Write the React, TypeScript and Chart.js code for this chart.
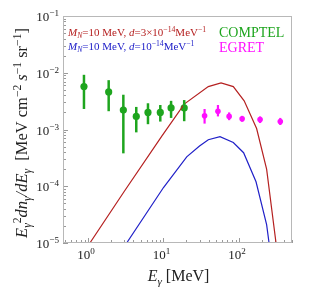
import React, { useEffect, useRef } from "react";
import { Chart, registerables } from "chart.js";

Chart.register(...registerables);

// Model curves (E in MeV, E^2 dn/dE)
const redE = [1.06, 3, 9.6, 18.8, 39.2, 57.8, 84, 117, 171, 232, 309];
const redY = [1e-5, 8.0e-5, 7.8e-4, 2.8e-3, 5.7e-3, 6.6e-3, 5.7e-3, 3.2e-3, 1.04e-3, 2.0e-4, 1e-5];
const blueE = [3.25, 10, 20.3, 30, 39.2, 56, 84, 115, 168, 232, 250];
const blueY = [1e-5, 9.5e-5, 3.3e-4, 5.1e-4, 6.6e-4, 7.5e-4, 5.9e-4, 3.9e-4, 1.2e-4, 2.1e-5, 1e-5];

// COMPTEL data
const comptelE = [0.885, 1.88, 2.94, 4.36, 6.23, 9.07, 12.6, 18.8];
const comptelY = [5.7e-3, 4.6e-3, 2.2e-3, 1.7e-3, 2.0e-3, 2.0e-3, 2.4e-3, 2.4e-3];
const comptelHi = [9.2e-3, 7.4e-3, 4.1e-3, 2.5e-3, 2.9e-3, 2.7e-3, 3.2e-3, 3.3e-3];
const comptelLo = [2.3e-3, 2.1e-3, 3.8e-4, 8.9e-4, 1.24e-3, 1.38e-3, 1.6e-3, 1.4e-3];

// EGRET data
const egretE = [35, 52.6, 74, 110, 190, 352];
const egretY = [1.74e-3, 2.1e-3, 1.7e-3, 1.55e-3, 1.5e-3, 1.38e-3];
const egretHi = [2.3e-3, 2.7e-3, 2.0e-3, 1.74e-3, 1.7e-3, 1.6e-3];
const egretLo = [1.27e-3, 1.7e-3, 1.46e-3, 1.37e-3, 1.3e-3, 1.2e-3];

const xTickExps = [0, 1, 2];
const yTickExps = [-1, -2, -3, -4, -5];

const RED = "#b52020";
const BLUE = "#2020c8";
const GREEN = "#1ea51e";
const MAGENTA = "#ff10ff";
const SERIF = "'Liberation Serif', 'DejaVu Serif', serif";

type Seg = { t: string; it?: boolean; sup?: boolean; sub?: boolean };

function segFont(s: Seg, size: number) {
  const sz = s.sup || s.sub ? size * 0.7 : size;
  return `${s.it ? "italic " : ""}${sz}px ${SERIF}`;
}
function richWidth(ctx: CanvasRenderingContext2D, segs: Seg[], size: number) {
  let w = 0;
  for (const s of segs) {
    ctx.font = segFont(s, size);
    w += ctx.measureText(s.t).width;
  }
  return w;
}
function drawRich(
  ctx: CanvasRenderingContext2D,
  segs: Seg[],
  x: number,
  y: number,
  size: number,
  color: string,
  align: "left" | "center" | "right" = "left"
) {
  const w = richWidth(ctx, segs, size);
  let cx = align === "left" ? x : align === "center" ? x - w / 2 : x - w;
  ctx.fillStyle = color;
  ctx.textAlign = "left";
  ctx.textBaseline = "alphabetic";
  for (const s of segs) {
    ctx.font = segFont(s, size);
    const dy = s.sup ? -size * 0.38 : s.sub ? size * 0.22 : 0;
    ctx.fillText(s.t, cx, y + dy);
    cx += ctx.measureText(s.t).width;
  }
}

const pts = (xs: number[], ys: number[]) => xs.map((x, i) => ({ x, y: ys[i] }));

const decorPlugin = {
  id: "decor",
  beforeDatasetsDraw(chart: any) {
    const { ctx, chartArea: a, scales } = chart;
    const xs = scales.x;
    const ys = scales.y;
    ctx.save();
    ctx.strokeStyle = "#9a9a9a";
    ctx.lineWidth = 1;
    for (let e = -1; e <= 2; e++) {
      for (let m = 1; m <= 9; m++) {
        const v = m * Math.pow(10, e);
        if (v < xs.min || v > xs.max) continue;
        const px = Math.round(xs.getPixelForValue(v)) + 0.5;
        const len = m === 1 ? 5 : 3;
        ctx.beginPath();
        ctx.moveTo(px, a.bottom);
        ctx.lineTo(px, a.bottom - len);
        ctx.stroke();
      }
    }
    for (let e = -5; e <= -2; e++) {
      for (let m = 1; m <= 9; m++) {
        const v = m * Math.pow(10, e);
        if (v < ys.min || v > ys.max) continue;
        const py = Math.round(ys.getPixelForValue(v)) + 0.5;
        const len = m === 1 ? 5 : 3;
        ctx.beginPath();
        ctx.moveTo(a.left, py);
        ctx.lineTo(a.left + len, py);
        ctx.stroke();
      }
    }
    ctx.restore();
  },
  afterDatasetsDraw(chart: any) {
    const { ctx, chartArea: a, scales } = chart;
    const xs = scales.x;
    const ys = scales.y;
    ctx.save();
    const bars = (E: number[], lo: number[], hi: number[], color: string, w: number) => {
      ctx.strokeStyle = color;
      ctx.lineWidth = w;
      E.forEach((e, i) => {
        const px = xs.getPixelForValue(e);
        const y1 = Math.min(ys.getPixelForValue(lo[i]), a.bottom);
        const y2 = ys.getPixelForValue(hi[i]);
        ctx.beginPath();
        ctx.moveTo(px, y1);
        ctx.lineTo(px, y2);
        ctx.stroke();
      });
    };
    bars(comptelE, comptelLo, comptelHi, GREEN, 2.5);
    bars(egretE, egretLo, egretHi, MAGENTA, 2.2);

    ctx.strokeStyle = "#b8b8b8";
    ctx.lineWidth = 1;
    ctx.strokeRect(a.left + 0.5, a.top + 0.5, a.right - a.left - 1, a.bottom - a.top - 1);

    const fs = 13;
    xTickExps.forEach((e) => {
      const px = xs.getPixelForValue(Math.pow(10, e));
      drawRich(ctx, [{ t: "10" }, { t: String(e), sup: true }], px - 2, a.bottom + 16, fs, "#222", "center");
    });
    yTickExps.forEach((e) => {
      const py = ys.getPixelForValue(Math.pow(10, e));
      drawRich(ctx, [{ t: "10" }, { t: "\u2212" + String(-e), sup: true }], a.left - 4, py + 5, fs, "#222", "right");
    });

    drawRich(ctx, [{ t: "E", it: true }, { t: "\u03b3", it: true, sub: true }, { t: " [MeV]" }], (a.left + a.right) / 2 + 1, 281, 16, "#222", "center");

    ctx.translate(27, 133);
    ctx.rotate(-Math.PI / 2);
    drawRich(
      ctx,
      [
        { t: "E", it: true },
        { t: "\u03b3", it: true, sub: true },
        { t: "2", sup: true },
        { t: "dn", it: true },
        { t: "\u03b3", it: true, sub: true },
        { t: "/", it: true },
        { t: "dE", it: true },
        { t: "\u03b3", it: true, sub: true },
        { t: "  [MeV cm" },
        { t: "\u22122", sup: true },
        { t: " " },
        { t: "s", it: true },
        { t: "\u22121", sup: true },
        { t: " sr" },
        { t: "\u22121", sup: true },
        { t: "]" },
      ],
      0,
      0,
      16.5,
      "#222",
      "center"
    );
    ctx.setTransform(1, 0, 0, 1, 0, 0);

    const lfs = 11;
    drawRich(
      ctx,
      [
        { t: "M", it: true },
        { t: "N", it: true, sub: true },
        { t: "=10 MeV, " },
        { t: "d", it: true },
        { t: "=3\u00d710" },
        { t: "\u221214", sup: true },
        { t: "MeV" },
        { t: "\u22121", sup: true },
      ],
      68,
      36,
      lfs,
      RED
    );
    drawRich(
      ctx,
      [
        { t: "M", it: true },
        { t: "N", it: true, sub: true },
        { t: "=10 MeV, " },
        { t: "d", it: true },
        { t: "=10" },
        { t: "\u221214", sup: true },
        { t: "MeV" },
        { t: "\u22121", sup: true },
      ],
      68,
      50,
      lfs,
      BLUE
    );
    drawRich(ctx, [{ t: "COMPTEL" }], 219, 37, 14, GREEN);
    drawRich(ctx, [{ t: "EGRET" }], 219, 52, 14, MAGENTA);
    ctx.restore();
  },
};

export default function App() {
  const ref = useRef<HTMLCanvasElement>(null);
  useEffect(() => {
    if (!ref.current) return;
    const chart = new Chart(ref.current, {
      type: "scatter",
      data: {
        datasets: [
          {
            data: pts(redE, redY),
            showLine: true,
            borderColor: RED,
            borderWidth: 1.2,
            pointRadius: 0,
            tension: 0,
          },
          {
            data: pts(blueE, blueY),
            showLine: true,
            borderColor: BLUE,
            borderWidth: 1.2,
            pointRadius: 0,
            tension: 0,
          },
          {
            data: pts(comptelE, comptelY),
            showLine: false,
            backgroundColor: GREEN,
            borderColor: GREEN,
            pointRadius: 3.6,
            borderWidth: 0,
          },
          {
            data: pts(egretE, egretY),
            showLine: false,
            backgroundColor: MAGENTA,
            borderColor: MAGENTA,
            pointRadius: 2.8,
            borderWidth: 0,
          },
        ],
      },
      options: {
        animation: false,
        responsive: false,
        maintainAspectRatio: false,
        layout: { padding: { left: 63, top: 16, right: 17, bottom: 52 } },
        plugins: { legend: { display: false }, tooltip: { enabled: false } },
        scales: {
          x: { type: "logarithmic", min: 0.467, max: 503, display: false },
          y: { type: "logarithmic", min: 1e-5, max: 0.1, display: false },
        },
      },
      plugins: [decorPlugin],
    });
    return () => chart.destroy();
  }, []);
  return (
    <div style={{ position: "absolute", left: 0, top: 0, width: 309, height: 295, background: "#fff" }}>
      <canvas ref={ref} width={309} height={295} />
    </div>
  );
}
